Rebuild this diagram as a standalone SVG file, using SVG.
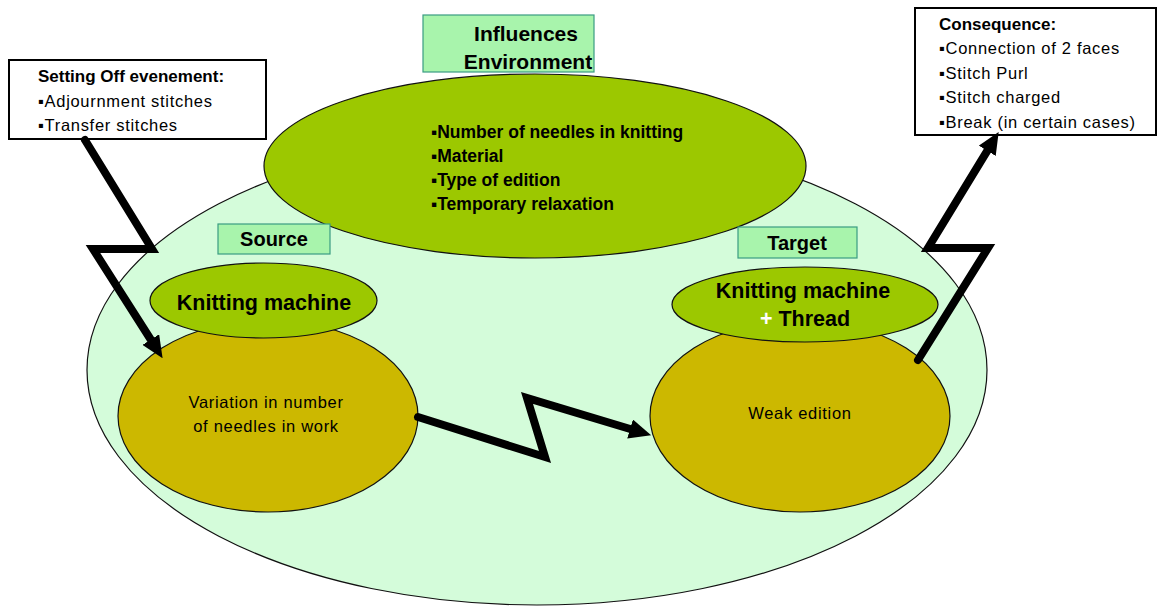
<svg xmlns="http://www.w3.org/2000/svg" width="1159" height="608" viewBox="0 0 1159 608">
<style>
.t{font-family:"Liberation Sans","DejaVu Sans",Arial,sans-serif;fill:#000}
.b{font-weight:bold}
.r{font-size:16.5px;letter-spacing:0.7px}
.box{fill:#fff;stroke:#000;stroke-width:2}
.lbl{fill:#A8F4AC;stroke:#3A9C82;stroke-width:1.2}
.ell{stroke:#111;stroke-width:1.2}
.mint{fill:#D4FCDA}
.olive{fill:#9CC800}
.gold{fill:#CCB800}
.conn{fill:none;stroke:#000;stroke-width:8;stroke-linejoin:miter;stroke-linecap:round}
</style>
<defs>
<marker id="ah" markerUnits="userSpaceOnUse" markerWidth="22" markerHeight="20" refX="8" refY="9" orient="auto" viewBox="0 0 20 18">
<path d="M0,0 L20,9 L0,18 z" fill="#000"/>
</marker>
</defs>
<rect width="1159" height="608" fill="#fff"/>

<g id="context">
<ellipse class="ell mint" cx="537" cy="370" rx="450" ry="235"/>
</g>

<g id="influences-ellipse">
<ellipse class="ell olive" cx="535" cy="166" rx="271" ry="92"/>
<text class="t b" font-size="17.5"><tspan x="431" y="138">▪Number of needles in knitting</tspan><tspan x="431" y="162">▪Material</tspan><tspan x="431" y="186">▪Type of edition</tspan><tspan x="431" y="210">▪Temporary relaxation</tspan></text>
</g>

<g id="influences-box">
<rect class="lbl" x="423" y="15" width="171" height="57"/>
<text class="t b" font-size="21" text-anchor="middle"><tspan x="526" y="41">Influences</tspan><tspan x="528" y="69">Environment</tspan></text>
</g>

<g id="source-label">
<rect class="lbl" x="218" y="224" width="112" height="30"/>
<text class="t b" font-size="20" x="274" y="246" text-anchor="middle">Source</text>
</g>

<g id="target-label">
<rect class="lbl" x="738" y="227" width="119" height="31"/>
<text class="t b" font-size="20" x="797" y="250" text-anchor="middle">Target</text>
</g>

<g id="source-state">
<ellipse class="ell gold" cx="268" cy="416" rx="150" ry="96"/>
<text class="t r" text-anchor="middle"><tspan x="266" y="408">Variation in number</tspan><tspan x="266" y="432">of needles in work</tspan></text>
</g>

<g id="target-state">
<ellipse class="ell gold" cx="800" cy="416" rx="150" ry="96"/>
<text class="t r" x="800" y="419" text-anchor="middle">Weak edition</text>
</g>

<g id="source-machine">
<ellipse class="ell olive" cx="263.5" cy="300.5" rx="113.5" ry="37.5"/>
<text class="t b" font-size="21.5" x="264" y="310" text-anchor="middle">Knitting machine</text>
</g>

<g id="target-machine">
<ellipse class="ell olive" cx="805" cy="304.5" rx="133" ry="37.5"/>
<text class="t b" font-size="21.5" x="803" y="298" text-anchor="middle">Knitting machine</text>
<text class="t b" font-size="21.5" x="805" y="326" text-anchor="middle"><tspan fill="#fff">+</tspan> Thread</text>
</g>

<g id="setting-off">
<rect class="box" x="9" y="60" width="257" height="79"/>
<text class="t b" font-size="17" x="38" y="82">Setting Off evenement:</text>
<text class="t r"><tspan x="38" y="107">▪Adjournment stitches</tspan><tspan x="38" y="131">▪Transfer stitches</tspan></text>
</g>

<g id="consequence">
<rect class="box" x="915" y="8" width="241" height="127"/>
<text class="t b" font-size="17" x="939" y="30">Consequence:</text>
<text class="t r"><tspan x="939" y="54">▪Connection of 2 faces</tspan><tspan x="939" y="79">▪Stitch Purl</tspan><tspan x="939" y="103">▪Stitch charged</tspan><tspan x="939" y="128">▪Break (in certain cases)</tspan></text>
</g>

<g id="connectors">
<path class="conn" d="M85,140 L152,249 L93,249 L155.5,347" marker-end="url(#ah)"/>
<path class="conn" d="M418,417 L545,457 L527,398 L638.5,431.5" marker-end="url(#ah)"/>
<path class="conn" d="M918,360 L988,248 L928,248 L991.8,143.3" marker-end="url(#ah)"/>
</g>
</svg>
